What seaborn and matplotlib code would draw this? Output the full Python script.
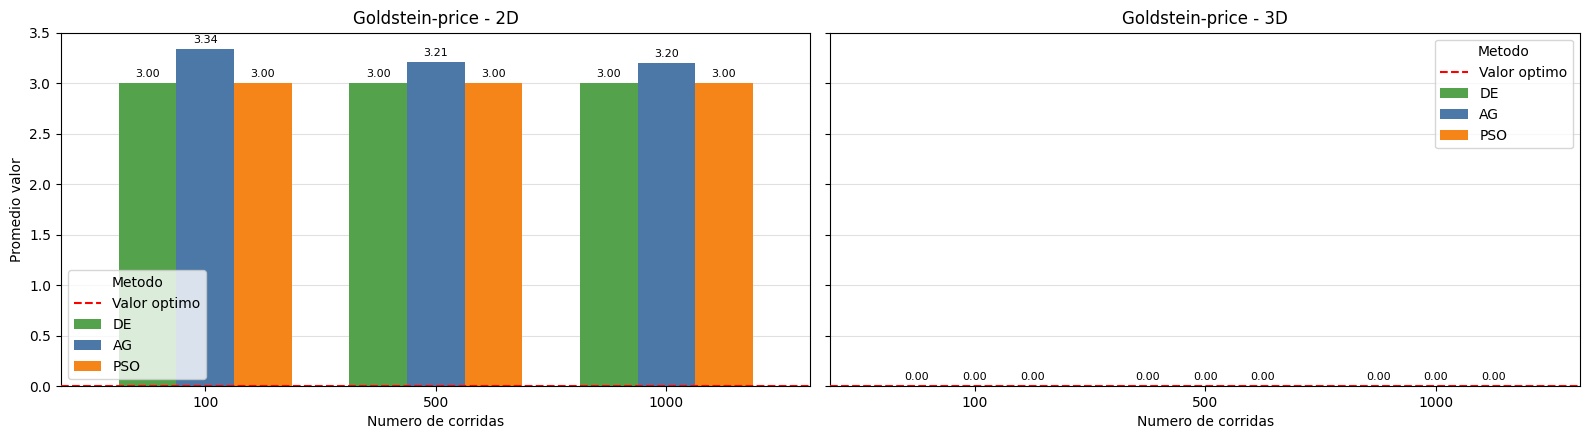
import matplotlib
matplotlib.use("Agg")
import matplotlib.pyplot as plt
import seaborn as sns
import pandas as pd
from matplotlib.lines import Line2D
from matplotlib.patches import Patch

corridas = ["100", "500", "1000"]
metodos = ["DE", "AG", "PSO"]
valores_2d = {"DE": [3.00, 3.00, 3.00], "AG": [3.34, 3.21, 3.20], "PSO": [3.00, 3.00, 3.00]}
valores_3d = {"DE": [0.0, 0.0, 0.0], "AG": [0.0, 0.0, 0.0], "PSO": [0.0, 0.0, 0.0]}
valor_optimo_2d = 0.0
valor_optimo_3d = 0.0
colores = {"DE": "#54a24b", "AG": "#4c78a8", "PSO": "#f58518"}

def make_df(vals):
    rows = []
    for m in metodos:
        for c, v in zip(corridas, vals[m]):
            rows.append({"corridas": c, "Metodo": m, "valor": v})
    return pd.DataFrame(rows)

plt.rcParams['font.family'] = ['DejaVu Sans']
fig, axes = plt.subplots(1, 2, figsize=(15.89, 4.4), dpi=100, sharey=True)

for ax, vals, opt, title, loc in [
    (axes[0], valores_2d, valor_optimo_2d, "Goldstein-price - 2D", "lower left"),
    (axes[1], valores_3d, valor_optimo_3d, "Goldstein-price - 3D", "upper right"),
]:
    df = make_df(vals)
    sns.barplot(data=df, x="corridas", y="valor", hue="Metodo", order=corridas,
                hue_order=metodos, palette=colores, width=0.75, gap=0,
                errorbar=None, ax=ax, legend=False, saturation=1)
    ax.set_axisbelow(True)
    ax.grid(axis="y", color="#e0e0e0", linewidth=0.8)
    for cont in ax.containers:
        ax.bar_label(cont, fmt="%.2f", padding=3, fontsize=8)
    ax.axhline(opt, color="red", linestyle="--", linewidth=1.5, zorder=5)
    ax.set_xlim(-0.625, 2.625)
    ax.set_ylim(0, 3.5)
    ax.set_title(title, fontsize=12)
    ax.set_xlabel("Numero de corridas")
    ax.set_ylabel("Promedio valor")
    handles = [Line2D([0], [0], color="red", linestyle="--", linewidth=1.5)] + \
              [Patch(facecolor=colores[m]) for m in metodos]
    ax.legend(handles, ["Valor optimo"] + metodos, title="Metodo", loc=loc)

axes[1].set_ylabel("")
axes[1].tick_params(axis="y", labelleft=False)

fig.subplots_adjust(left=0.0384, right=0.9943, top=0.926, bottom=0.1227, wspace=0.0267)
fig.savefig("out.png", dpi=100)
